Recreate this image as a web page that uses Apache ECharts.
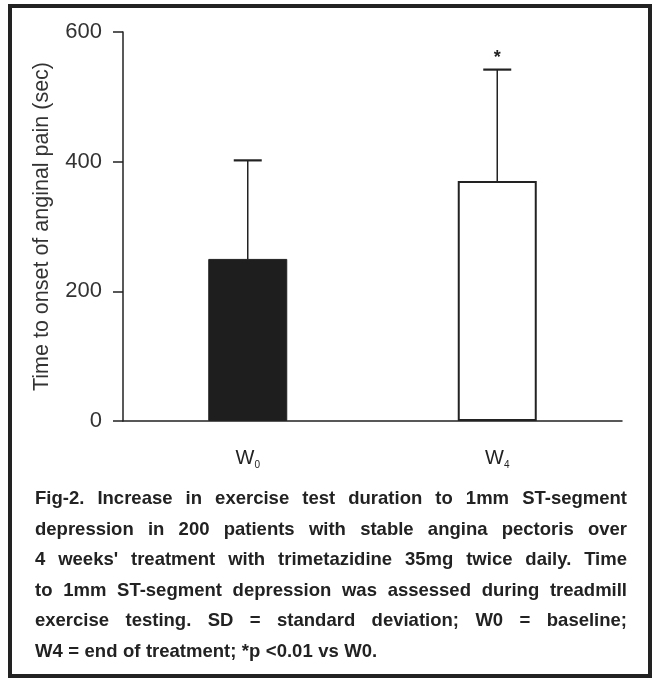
<!DOCTYPE html>
<html><head><meta charset="utf-8">
<script src="https://cdn.jsdelivr.net/npm/echarts@6/dist/echarts.min.js"></script>
<style>html,body{margin:0;padding:0;background:#fff}#c{width:654px;height:679px}</style>
</head><body><div id="c"></div>
<script>
// ---- data ----
const categories = ['W0', 'W4'];
const meanValues = [250, 370];
const sdValues = [152, 172];
const significance = ['', '*'];
const yTicks = [0, 200, 400, 600];
const yAxisTitle = 'Time to onset of anginal pain (sec)';
const captionLines = [
  'Fig-2. Increase in exercise test duration to 1mm ST-segment',
  'depression in 200 patients with stable angina pectoris over',
  "4 weeks' treatment with trimetazidine 35mg twice daily. Time",
  'to 1mm ST-segment depression was assessed during treadmill',
  'exercise testing. SD = standard deviation; W0 = baseline;',
  'W4 = end of treatment; *p <0.01 vs W0.'
];

const chart = echarts.init(document.getElementById('c'), null, {renderer: 'canvas'});
const ink = '#222';

// caption layout (justified, horizontally condensed)
const capLeft = 35, capRight = 627, capTop = 499, capStep = 30.6;
const fam = '"Liberation Sans", Arial, sans-serif';
const fs = 18.5;
const font = 'bold ' + fs + 'px ' + fam;
const mctx = document.createElement('canvas').getContext('2d');
mctx.font = font;
const minGap = 5.5;
let sx = 1;
captionLines.slice(0, -1).forEach(l => {
  const ws = l.split(' ');
  const sum = ws.reduce((a, w) => a + mctx.measureText(w).width, 0);
  sx = Math.min(sx, (capRight - capLeft - minGap * (ws.length - 1)) / sum);
});
const capElems = [];
captionLines.forEach((line, i) => {
  const words = line.split(' ');
  const widths = words.map(w => mctx.measureText(w).width * sx);
  const total = widths.reduce((a, b) => a + b, 0);
  const last = i === captionLines.length - 1;
  const gap = last ? minGap : (capRight - capLeft - total) / (words.length - 1);
  let x = capLeft;
  words.forEach((w, j) => {
    capElems.push({type: 'text', x: x, y: capTop + i * capStep, scaleX: sx,
      style: {text: w, font: font, fill: ink, textVerticalAlign: 'middle'}});
    x += widths[j] + gap;
  });
});

const option = {
  animation: false,
  backgroundColor: '#fff',
  grid: {left: 123, right: 32, top: 32, bottom: 258, containLabel: false},
  xAxis: {
    type: 'category', data: categories,
    axisLine: {lineStyle: {color: ink, width: 1.5}},
    axisTick: {show: false},
    axisLabel: {
      margin: 27,
      formatter: v => '{m|' + v.charAt(0) + '}{s|' + v.slice(1) + '}',
      rich: {
        m: {fontFamily: 'Liberation Sans, Arial', fontSize: 20, color: ink, verticalAlign: 'bottom'},
        s: {fontFamily: 'Liberation Sans, Arial', fontSize: 10, color: ink, verticalAlign: 'bottom', padding: [0, 0, -2, 0]}
      }
    }
  },
  yAxis: {
    type: 'value', min: yTicks[0], max: yTicks[yTicks.length - 1], interval: yTicks[1] - yTicks[0],
    name: yAxisTitle, nameLocation: 'middle', nameGap: 70, nameRotate: 90,
    nameTextStyle: {fontFamily: 'Liberation Sans, Arial', fontSize: 21.5, color: '#333'},
    axisLine: {show: true, lineStyle: {color: ink, width: 1.5}},
    axisTick: {show: true, length: 10, lineStyle: {color: ink, width: 1.5}},
    axisLabel: {margin: 21, fontFamily: 'Liberation Sans, Arial', fontSize: 22, color: '#333'},
    splitLine: {show: false}
  },
  series: [
    {
      type: 'bar', barWidth: 79,
      data: meanValues.map((v, i) => ({
        value: v,
        itemStyle: i === 0 ? {color: '#1e1e1e', borderColor: ink, borderWidth: 1}
                           : {color: '#fff', borderColor: ink, borderWidth: 2}
      }))
    },
    {
      type: 'custom', z: 5,
      data: meanValues.map((v, i) => [i, v, sdValues[i]]),
      renderItem: (params, api) => {
        const i = api.value(0), m = api.value(1), sd = api.value(2);
        const p0 = api.coord([i, m]);
        const p1 = api.coord([i, m + sd]);
        const hw = 14;
        const children = [
          {type: 'line', shape: {x1: p0[0], y1: p0[1], x2: p1[0], y2: p1[1]}, style: {stroke: ink, lineWidth: 1.5}},
          {type: 'line', shape: {x1: p1[0] - hw, y1: p1[1], x2: p1[0] + hw, y2: p1[1]}, style: {stroke: ink, lineWidth: 2.2}}
        ];
        if (significance[i]) {
          children.push({type: 'text', x: p1[0], y: p1[1] - 12,
            style: {text: significance[i], font: 'bold 18px Liberation Sans, Arial', fill: ink, textAlign: 'center', textVerticalAlign: 'middle'}});
        }
        return {type: 'group', children: children};
      }
    }
  ],
  graphic: [
    {type: 'rect', shape: {x: 10, y: 6, width: 640, height: 670}, style: {fill: 'none', stroke: ink, lineWidth: 4}, z: 100}
  ].concat(capElems)
};
chart.setOption(option);
</script></body></html>
